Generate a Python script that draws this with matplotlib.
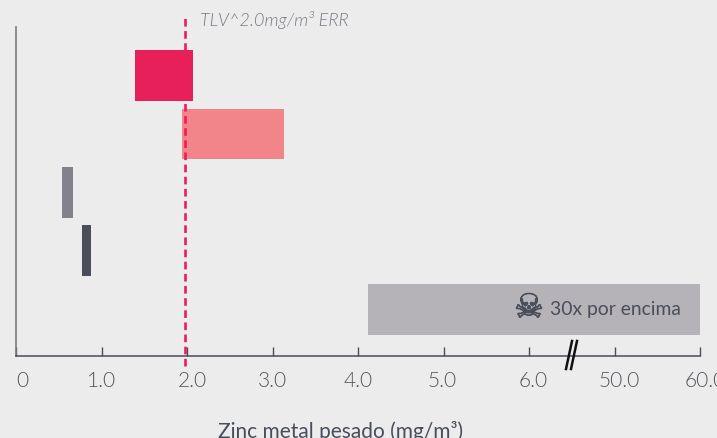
import numpy as np
import matplotlib
matplotlib.use("Agg")
import matplotlib.pyplot as plt
from matplotlib import patheffects
from matplotlib.ticker import NullLocator
from matplotlib.transforms import ScaledTranslation

# broken axis: evenly spaced ticks, real values
tick_values = [0, 1, 2, 3, 4, 5, 6, 50, 60]
tick_labels = ["0", "1.0", "2.0", "3.0", "4.0", "5.0", "6.0", "50.0", "60.0"]
tick_shift_px = [6, 0, 5, 0, 0, -1, 4, 5, 5]

bar_start = [1.39, 1.94, 0.54, 0.77, 4.12]
bar_end = [2.07, 3.14, 0.67, 0.88, 60]
bar_colors = ["#e8205a", "#f2858a", "#83818b", "#4a4d5a", "#b5b3b8"]
bar_order = [3, 1, 1, 1, 1]
tlv = 2.0

BG = "#ececec"
DARK = "#4a4d5a"
GREY = "#7a7a85"

plt.rcParams["font.family"] = ["Lato", "DejaVu Sans"]


def to_pos(v):
    return np.interp(v, tick_values, np.arange(len(tick_values)))


def from_pos(p):
    return np.interp(p, np.arange(len(tick_values)), tick_values)


fig = plt.figure(figsize=(7.17, 4.39), dpi=100, facecolor=BG)
ax = fig.add_axes([16 / 717, 1 - 357 / 439, 684 / 717, 329 / 439], facecolor=BG)
ax.set_xscale("function", functions=(to_pos, from_pos))

for i in range(len(bar_start)):
    ax.barh(i, bar_end[i] - bar_start[i], left=bar_start[i], height=0.87,
            color=bar_colors[i], zorder=bar_order[i])

ax.set_xlim(0, 60)
ax.set_ylim(4.8, -0.83)
ax.set_yticks([])
ax.set_xticks(tick_values)
ax.set_xticklabels(tick_labels, fontsize=15, color="#55555d", fontweight=300)
ax.tick_params(axis="x", direction="in", length=6.5, width=1, color=DARK, pad=10)
ax.xaxis.set_minor_locator(NullLocator())
for lab, dx in zip(ax.get_xticklabels(), tick_shift_px):
    lab.set_transform(lab.get_transform() + ScaledTranslation(dx / 100, 0, fig.dpi_scale_trans))
    lab.set_clip_on(False)

for s in ["top", "right"]:
    ax.spines[s].set_visible(False)
ax.spines["left"].set_color(GREY)
ax.spines["left"].set_linewidth(1.2)
ax.spines["bottom"].set_color(DARK)
ax.spines["bottom"].set_linewidth(1.1)

# threshold line, runs past the axes on both ends
tr = ax.get_xaxis_transform()
ax.plot([tlv * 0.99, tlv * 0.99], [-0.03, 1.04], transform=tr, color="#ee1c5c", lw=1.9,
        dashes=(2.9, 1.7), clip_on=False, zorder=2)
ax.text(200 / 717, 1 - 20 / 439, "TLV^2.0mg/m³ ERR", transform=fig.transFigure, fontsize=13,
        style="italic", fontweight=300, color=GREY, va="center", ha="left")

# skull + note in the long bar
ax.text(529 / 717, 1 - 309 / 439, "\u2620", transform=fig.transFigure, family="DejaVu Sans",
        fontsize=24, color=DARK, ha="center", va="center", zorder=5,
        path_effects=[patheffects.withStroke(linewidth=0.6, foreground=DARK)])
ax.text(550 / 717, 1 - 310 / 439, "30x por encima", transform=fig.transFigure, fontsize=13.9,
        color=DARK, ha="left", va="center", zorder=5)

# axis break mark
for off in [0, 5]:
    fig.add_artist(plt.Line2D([(566 + off) / 717, (572 + off) / 717],
                              [1 - 370 / 439, 1 - 342 / 439],
                              color="#111111", lw=1.8))

fig.text(341 / 717, 1 - 431.5 / 439, "Zinc metal pesado (mg/m³)", fontsize=15, color=DARK,
         ha="center", va="center")

fig.savefig("out.png", dpi=100, facecolor=BG)
